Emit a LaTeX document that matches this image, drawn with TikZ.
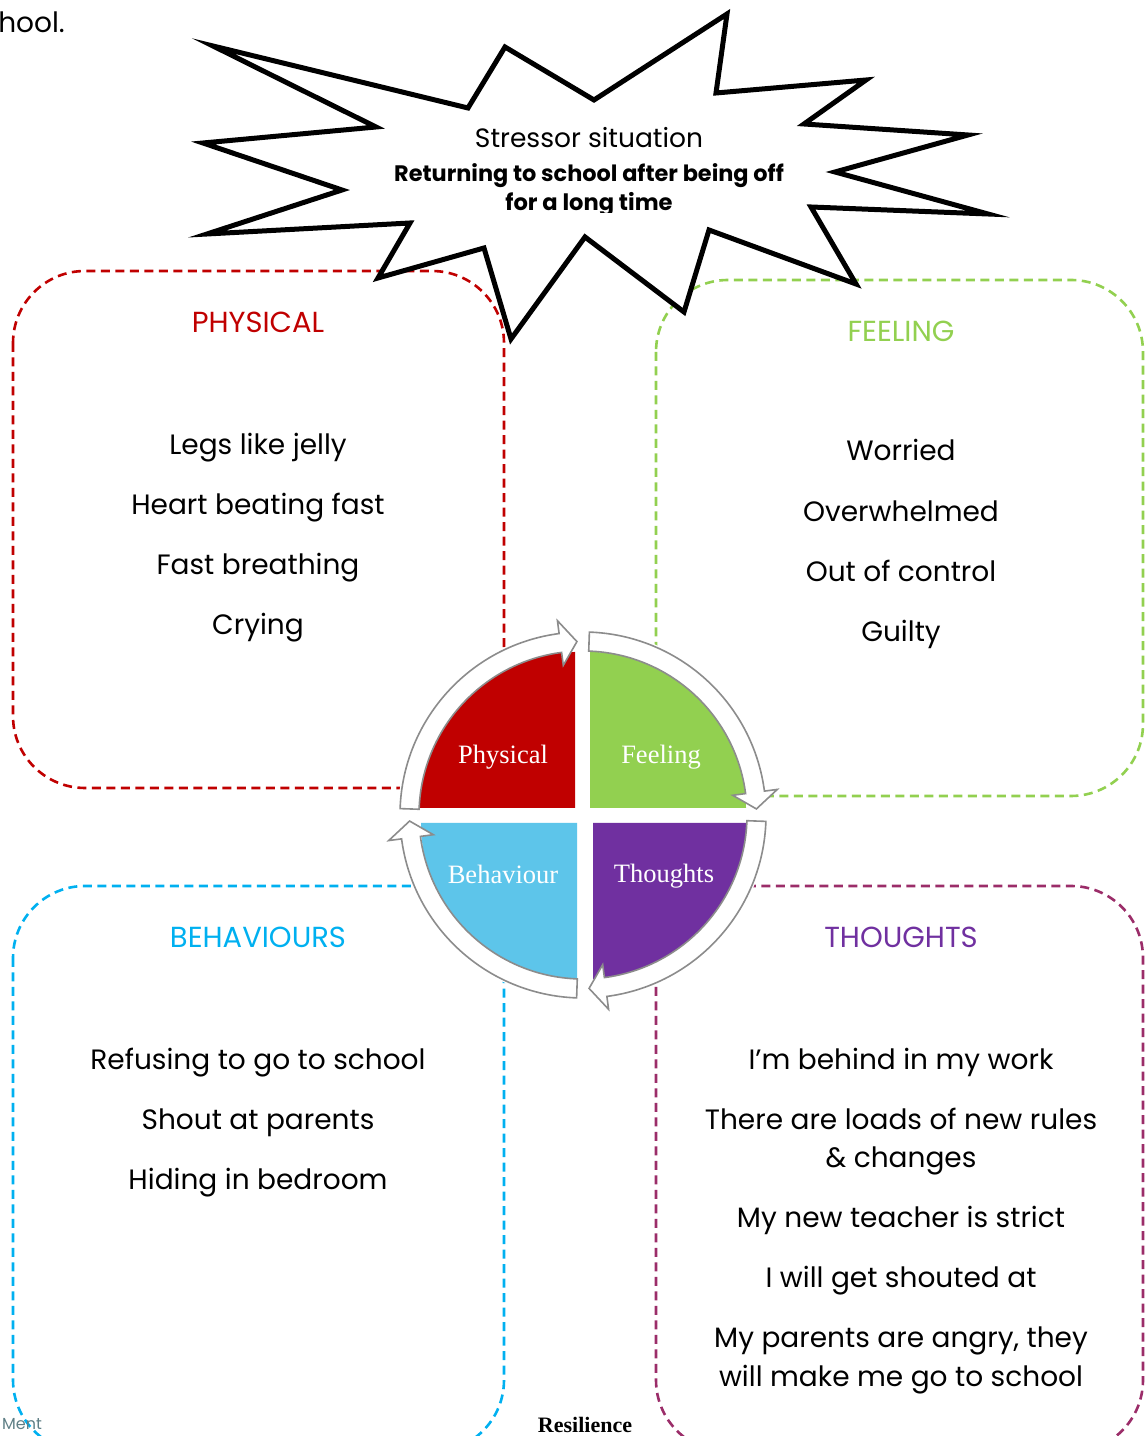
\documentclass[tikz,border=0pt]{standalone}
\usepackage{fontspec}
\setmainfont{Poppins}
\newfontfamily\qfont{Liberation Serif}
\definecolor{physred}{HTML}{C00000}
\definecolor{feelgreen}{HTML}{92D050}
\definecolor{behblue}{HTML}{00B0F0}
\definecolor{behlight}{HTML}{5DC5EA}
\definecolor{thpurple}{HTML}{7030A0}
\definecolor{thdash}{HTML}{9B2D69}
\definecolor{ringgray}{HTML}{8C8C8C}
\definecolor{logoteal}{HTML}{5F7F86}
\newcommand\cyclarrow[2]{%
  \pgfmathsetmacro\hb{#2+5.5}%
  \filldraw[ringarrow] (#1:183) arc[start angle=#1, end angle=\hb, radius=183]
    -- (\hb:196) -- (#2:173.5) -- (\hb:151) -- (\hb:164)
    arc[start angle=\hb, end angle=#1, radius=164] -- cycle;}
\begin{document}
\begin{tikzpicture}[x=1pt,y=1pt,
  dashbox/.style={line width=2.6pt, dash pattern=on 9pt off 5.5pt, rounded corners=72pt},
  bodytxt/.style={font=\fontsize{28}{32}\selectfont, anchor=base, inner sep=0pt},
  hdrtxt/.style={font=\fontsize{29}{33}\selectfont, anchor=base, inner sep=0pt},
  quadtxt/.style={font=\qfont\fontsize{26.5}{30}\selectfont, text=white, inner sep=0pt},
  ringarrow/.style={fill=white, draw=ringgray, line width=1.6pt, line join=miter},
  burst/.style={fill=white, draw=black, line width=5pt, line join=miter, miter limit=20}]
\useasboundingbox (0,0) rectangle (1145,1436);
\clip (0,0) rectangle (1145,1436);

% dashed boxes
\draw[dashbox, physred] (13,1165) rectangle (504,648);
\draw[dashbox, feelgreen] (656,1156) rectangle (1143,640);
\draw[dashbox, behblue] (13,550) rectangle (504,-16);
\draw[dashbox, thdash] (656,550) rectangle (1143,-16);

% stressor starburst
\draw[burst] (213,1390) -- (468,1328) -- (505,1389) -- (594,1336) -- (727,1422)
  -- (716,1343) -- (866,1356) -- (804,1312) -- (968,1301) -- (835,1264)
  -- (988,1222) -- (811,1229) -- (856,1152) -- (709,1206) -- (684,1124)
  -- (585,1199) -- (511,1097) -- (484,1188) -- (378,1158) -- (410,1213)
  -- (207,1202) -- (342,1246) -- (203,1293) -- (376,1309) -- cycle;

\node[font=\fontsize{26.5}{30}\selectfont, anchor=base, inner sep=0pt] (stressA) at (589,1288) {Stressor situation};
\node[font=\bfseries\fontsize{22.4}{26}\selectfont, anchor=base, inner sep=0pt] (stressB) at (589,1254) {Returning to school after being off};
\begin{scope}
\clip (300,1223) rectangle (900,1260);
\node[font=\bfseries\fontsize{22.6}{26}\selectfont, anchor=base, inner sep=0pt] (stressC) at (589,1225) {for a long time};
\end{scope}

% top-left fragment
\node[font=\fontsize{28}{32}\selectfont, anchor=base east, inner sep=0pt] (frag) at (65,1403) {hool.};

% centre cycle
\begin{scope}[shift={(583,621)}]
\fill[white] (0,0) circle (185);
\fill[physred] (-8,7) -- ++(0,156) arc[start angle=90, end angle=180, radius=156] -- cycle;
\fill[feelgreen] (7,7) -- ++(156,0) arc[start angle=0, end angle=90, radius=156] -- cycle;
\fill[behlight] (-6,-8) -- ++(-156,0) arc[start angle=180, end angle=270, radius=156] -- cycle;
\fill[thpurple] (10,-8) -- ++(0,-156) arc[start angle=270, end angle=360, radius=156] -- cycle;
\cyclarrow{178}{92}
\cyclarrow{88}{2}
\cyclarrow{-2}{-88}
\cyclarrow{-92}{-178}
\end{scope}
\node[quadtxt] (qP) at (503,679) {Physical};
\node[quadtxt] (qF) at (661,679) {Feeling};
\node[quadtxt] (qB) at (503,562) {Behaviour};
\node[quadtxt] (qT) at (664,560) {Thoughts};

% Physical
\node[hdrtxt, text=physred] (hP) at (258,1103) {PHYSICAL};
\node[bodytxt] (p1) at (258,981) {Legs like jelly};
\node[bodytxt] (p2) at (258,921) {Heart beating fast};
\node[bodytxt] (p3) at (258,861) {Fast breathing};
\node[bodytxt] (p4) at (258,801) {Crying};

% Feeling
\node[hdrtxt, text=feelgreen] (hF) at (901,1094) {FEELING};
\node[bodytxt] (f1) at (901,975) {Worried};
\node[bodytxt] (f2) at (901,914) {Overwhelmed};
\node[bodytxt] (f3) at (901,854) {Out of control};
\node[bodytxt] (f4) at (901,794) {Guilty};

% Behaviours
\node[hdrtxt, text=behblue] (hB) at (258,488) {BEHAVIOURS};
\node[bodytxt] (b1) at (258,366) {Refusing to go to school};
\node[bodytxt] (b2) at (258,306) {Shout at parents};
\node[bodytxt] (b3) at (258,246) {Hiding in bedroom};

% Thoughts
\node[hdrtxt, text=thpurple] (hT) at (901,488) {THOUGHTS};
\node[bodytxt] (t1) at (901,366) {I’m behind in my work};
\node[bodytxt] (t2a) at (901,306) {There are loads of new rules};
\node[bodytxt] (t2b) at (901,268) {\& changes};
\node[bodytxt] (t3) at (901,208) {My new teacher is strict};
\node[bodytxt] (t4) at (901,148) {I will get shouted at};
\node[bodytxt] (t5a) at (901,88) {My parents are angry, they};
\node[bodytxt] (t5b) at (901,49) {will make me go to school};

% bottom fragments
\node[font=\fontsize{16}{18}\selectfont, text=logoteal, anchor=south west, inner sep=0pt] (logoM) at (2,6) {Ment};
\node[font=\qfont\bfseries\fontsize{22}{26}\selectfont, anchor=south, inner sep=0pt] (logoR) at (585,3) {Resilience};
\end{tikzpicture}
\end{document}
